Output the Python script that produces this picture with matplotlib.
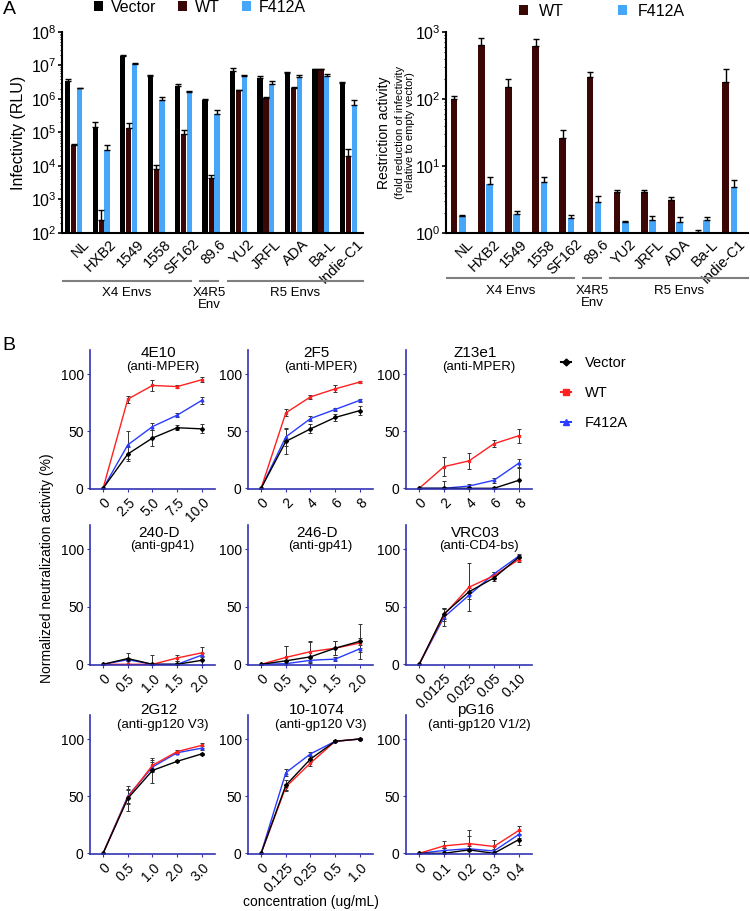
import numpy as np
import matplotlib.pyplot as plt
import matplotlib.transforms as mtransforms
from matplotlib.lines import Line2D
from matplotlib.ticker import LogLocator, NullFormatter

plt.rcParams['font.family'] = ['Liberation Sans', 'DejaVu Sans']
plt.rcParams['mathtext.fontset'] = 'custom'
plt.rcParams['mathtext.rm'] = 'Liberation Sans'
plt.rcParams['mathtext.default'] = 'regular'

# ---- panel A data ----
envs = ['NL', 'HXB2', '1549', '1558', 'SF162', '89.6', 'YU2', 'JRFL', 'ADA', 'Ba-L', 'Indie-C1']
groups = ['X4 Envs', 'X4R5\nEnv', 'R5 Envs']
group_first = [0, 5, 6]
group_last = [4, 5, 10]

rlu_vector = [3.5e6, 1.5e5, 1.96e7, 5.0e6, 2.5e6, 9.5e5, 7.0e6, 4.3e6, 6.0e6, 7.7e6, 3.1e6]
rlu_vector_err = [0.5e6, 0.5e5, 1.0e6, 0.3e6, 0.4e6, 0.5e5, 1.2e6, 0.6e6, 0.6e6, 0.4e6, 0.2e6]
rlu_wt = [4.2e4, 250, 1.4e5, 8.1e3, 9.1e4, 4.4e3, 1.8e6, 1.07e6, 2.1e6, 7.7e6, 2.0e4]
rlu_wt_err = [0.4e4, 250, 0.5e5, 2.5e3, 3e4, 1.1e3, 0.1e6, 0.1e6, 0.2e6, 0.3e6, 1.2e4]
rlu_f412a = [2.1e6, 3.1e4, 1.1e7, 9.5e5, 1.6e6, 3.6e5, 5.0e6, 2.9e6, 4.5e6, 5.0e6, 6.8e5]
rlu_f412a_err = [0.1e6, 1.1e4, 1.0e6, 2.0e5, 1.5e5, 1.2e5, 0.2e6, 0.6e6, 0.8e6, 0.6e6, 2.7e5]

fold_wt = [101, 647, 150, 613, 26, 213, 4.1, 4.1, 3.15, 1.05, 178]
fold_wt_err = [8, 180, 50, 160, 9, 37, 0.3, 0.3, 0.3, 0.05, 100]
fold_f412a = [1.77, 5.4, 1.92, 5.7, 1.67, 2.87, 1.44, 1.55, 1.48, 1.55, 4.86]
fold_f412a_err = [0.1, 1.5, 0.23, 1.2, 0.21, 0.73, 0.09, 0.22, 0.25, 0.18, 1.24]

# ---- panel B data ----
t_4e10 = ['0', '2.5', '5.0', '7.5', '10.0']
vec_4e10 = [0, 30, 44, 53, 52];     vec_4e10_err = [0, 6, 7, 2, 4]
wt_4e10 = [0, 78, 90, 89, 95];      wt_4e10_err = [0, 3, 5, 1, 2]
f_4e10 = [0, 38, 54, 64, 77];       f_4e10_err = [0, 12, 3, 2, 3]

t_2f5 = ['0', '2', '4', '6', '8']
vec_2f5 = [0, 41, 52, 62, 68];      vec_2f5_err = [0, 11, 4, 3, 4]
wt_2f5 = [0, 66, 80, 87, 93];       wt_2f5_err = [0, 3, 1.5, 3, 1]
f_2f5 = [0, 45, 61, 69, 77];        f_2f5_err = [0, 8, 2, 1, 1.5]

t_z13 = ['0', '2', '4', '6', '8']
vec_z13 = [0, 0, 0, 0, 7];          vec_z13_err = [0, 6, 1, 1, 12]
wt_z13 = [0, 19, 24, 39, 46];       wt_z13_err = [0, 8, 7, 3, 6]
f_z13 = [0, 0, 2, 7, 22];           f_z13_err = [0, 1, 2, 2, 4]

t_240d = ['0', '0.5', '1.0', '1.5', '2.0']
vec_240d = [0, 5, 0, 0, 3.5];       vec_240d_err = [0, 5, 8, 3, 4]
wt_240d = [0, 0, 0, 5.5, 10];       wt_240d_err = [0, 0, 0, 3, 5]
f_240d = [0, 4, 0, 0, 8];           f_240d_err = [0, 1, 1, 1, 2]

t_246d = ['0', '0.5', '1.0', '1.5', '2.0']
vec_246d = [0, 3, 6.5, 14, 20];     vec_246d_err = [0, 13, 13, 6, 15]
wt_246d = [0, 6, 11, 14, 18.5];     wt_246d_err = [0, 10, 9, 6, 4]
f_246d = [0, 0.5, 3.5, 4.5, 13.5];  f_246d_err = [0, 2, 2, 2, 3]

t_vrc = ['0', '0.0125', '0.025', '0.05', '0.10']
vec_vrc = [0, 44, 63, 75, 93];      vec_vrc_err = [0, 5, 3, 3, 2]
wt_vrc = [0, 43, 67, 77, 91];       wt_vrc_err = [0, 5, 21, 3, 2]
f_vrc = [0, 41, 60, 78.5, 94];      f_vrc_err = [0, 8, 3, 2, 2]

t_2g12 = ['0', '0.5', '1.0', '2.0', '3.0']
vec_2g12 = [0, 48, 72.5, 80.5, 87]; vec_2g12_err = [0, 11, 11, 1, 1]
wt_2g12 = [0, 49, 77, 89, 94.5];    wt_2g12_err = [0, 6, 5, 1, 2]
f_2g12 = [0, 50, 75.5, 88, 92];     f_2g12_err = [0, 6, 4, 1, 2]

t_1074 = ['0', '0.125', '0.25', '0.5', '1.0']
vec_1074 = [0, 59.5, 82.5, 98, 100]; vec_1074_err = [0, 5, 3, 1, 1]
wt_1074 = [0, 58, 79, 98, 100];      wt_1074_err = [0, 3, 3, 1, 1]
f_1074 = [0, 70.5, 87, 98, 100];     f_1074_err = [0, 3, 2, 1, 1]

t_pg16 = ['0', '0.1', '0.2', '0.3', '0.4']
vec_pg16 = [0, 0, 3, 0, 12];        vec_pg16_err = [0, 5, 12, 6, 5]
wt_pg16 = [0, 6.5, 8.5, 6, 20];     wt_pg16_err = [0, 4, 12, 6, 4]
f_pg16 = [0, 2.5, 4, 2, 16.5];      f_pg16_err = [0, 2, 2, 2, 3]

W, H = 750, 911
fig = plt.figure(figsize=(W / 100, H / 100), dpi=100)


def px_axes(l, t, r, b):
    return fig.add_axes([l / W, 1 - b / H, (r - l) / W, (b - t) / H])


C_VEC = 'black'
C_WT = '#3a0606'
C_F = '#45a6fa'
ekw = dict(ecolor='black', elinewidth=1, capsize=2, capthick=1)


def group_lines(ax, xlim, yline, ytext):
    tr = ax.get_xaxis_transform()
    for name, a, b in zip(groups, group_first, group_last):
        lo = max(a - 0.4, xlim[0])
        hi = b + 0.25 if b < len(envs) - 1 else xlim[1]
        ax.plot([lo, hi], [yline, yline], color='#7f7f7f', lw=1.5,
                transform=tr, clip_on=False)
        ax.text((lo + hi) / 2, ytext, name, transform=tr, ha='center',
                va='top', fontsize=9.5, linespacing=1.0)


def style_a(ax, lo, hi):
    ax.set_yscale('log')
    ax.set_ylim(lo, hi)
    ax.set_yticks([10.0 ** k for k in range(int(np.log10(lo)), int(np.log10(hi)) + 1)])
    ax.yaxis.set_minor_locator(LogLocator(base=10, subs=np.arange(2, 10), numticks=20))
    ax.yaxis.set_minor_formatter(NullFormatter())
    for s in ['top', 'right']:
        ax.spines[s].set_visible(False)
    for s in ['left', 'bottom']:
        ax.spines[s].set_linewidth(1.5)
    ax.tick_params(axis='x', length=0, labelsize=10.5, pad=3)
    ax.tick_params(axis='y', which='major', length=3, width=1.2, labelsize=11.5, pad=1)
    ax.tick_params(axis='y', which='minor', length=1.5, width=0.7)
    off = mtransforms.ScaledTranslation(0.08, 0, fig.dpi_scale_trans)
    for lab in ax.get_xticklabels():
        lab.set_transform(lab.get_transform() + off)


x = np.arange(len(envs))
n = len(envs)

# ---- A left ----
ax = px_axes(62, 32, 363, 233)
ax.set_yscale('log')
b1 = ax.bar(x - 0.22, rlu_vector, 0.19, color=C_VEC, yerr=[np.zeros(n), rlu_vector_err], error_kw=ekw)
b2 = ax.bar(x, rlu_wt, 0.19, color=C_WT, yerr=[np.zeros(n), rlu_wt_err], error_kw=ekw)
b3 = ax.bar(x + 0.21, rlu_f412a, 0.19, color=C_F, yerr=[np.zeros(n), rlu_f412a_err], error_kw=ekw)
ax.set_xlim(-0.43, 10.53)
ax.set_xticks(x, envs, rotation=45, ha='right', rotation_mode='anchor')
ax.set_ylabel('Infectivity (RLU)', fontsize=11.5, labelpad=3)
style_a(ax, 1e2, 1e8)
group_lines(ax, (-0.43, 10.53), -0.239, -0.27)
fig.legend([b1, b2, b3], ['Vector', 'WT', 'F412A'], loc='center',
           bbox_to_anchor=(200 / W, 1 - 7 / H), ncol=3, frameon=False,
           fontsize=11.5, handlelength=0.55, handleheight=0.55, columnspacing=1.4,
           handletextpad=0.5)

# ---- A right ----
ax = px_axes(446, 32, 748, 233)
ax.set_yscale('log')
r1 = ax.bar(x - 0.153, fold_wt, 0.245, color=C_WT, yerr=[np.zeros(n), fold_wt_err], error_kw=ekw)
r2 = ax.bar(x + 0.153, fold_f412a, 0.245, color=C_F, yerr=[np.zeros(n), fold_f412a_err], error_kw=ekw)
ax.set_xlim(-0.45, 10.67)
ax.set_xticks(x, envs, rotation=45, ha='right', rotation_mode='anchor')
style_a(ax, 1, 1e3)
group_lines(ax, (-0.45, 10.67), -0.224, -0.258)
ax.text(-0.205, 0.5, 'Restriction activity', transform=ax.transAxes, rotation=90,
        ha='center', va='center', fontsize=10)
ax.text(-0.137, 0.5, '(fold reduction of infectivity\nrelative to empty vector)',
        transform=ax.transAxes, rotation=90, ha='center', va='center',
        fontsize=8, linespacing=1.0)
fig.legend([r1, r2], ['WT', 'F412A'], loc='center',
           bbox_to_anchor=(602 / W, 1 - 11 / H), ncol=2, frameon=False,
           fontsize=11.5, handlelength=0.55, handleheight=0.55, columnspacing=3.4,
           handletextpad=0.7)

fig.text(3 / W, 1 - 9 / H, 'A', fontsize=14, va='center', ha='left')
fig.text(2 / W, 1 - 345 / H, 'B', fontsize=14, va='center', ha='left')

# ---- panel B ----
panels = [
    ('4E10', '(anti-MPER)', t_4e10, vec_4e10, vec_4e10_err, wt_4e10, wt_4e10_err, f_4e10, f_4e10_err),
    ('2F5', '(anti-MPER)', t_2f5, vec_2f5, vec_2f5_err, wt_2f5, wt_2f5_err, f_2f5, f_2f5_err),
    ('Z13e1', '(anti-MPER)', t_z13, vec_z13, vec_z13_err, wt_z13, wt_z13_err, f_z13, f_z13_err),
    ('240-D', '(anti-gp41)', t_240d, vec_240d, vec_240d_err, wt_240d, wt_240d_err, f_240d, f_240d_err),
    ('246-D', '(anti-gp41)', t_246d, vec_246d, vec_246d_err, wt_246d, wt_246d_err, f_246d, f_246d_err),
    ('VRC03', '(anti-CD4-bs)', t_vrc, vec_vrc, vec_vrc_err, wt_vrc, wt_vrc_err, f_vrc, f_vrc_err),
    ('2G12', '(anti-gp120 V3)', t_2g12, vec_2g12, vec_2g12_err, wt_2g12, wt_2g12_err, f_2g12, f_2g12_err),
    ('10-1074', '(anti-gp120 V3)', t_1074, vec_1074, vec_1074_err, wt_1074, wt_1074_err, f_1074, f_1074_err),
    ('pG16', '(anti-gp120 V1/2)', t_pg16, vec_pg16, vec_pg16_err, wt_pg16, wt_pg16_err, f_pg16, f_pg16_err),
]
rows = [(350, 489), (525, 665), (715, 854)]
cols = [(90, 215), (248, 373), (406, 532)]
title_y = [(0.978, 0.878), (0.943, 0.85), (1.036, 0.928)]
C_AX = '#3434b4'
C_RED = '#ff2020'
C_BLUE = '#2a3cff'

for i, (name, target, ticks, vec, vec_e, wt, wt_e, f, f_e) in enumerate(panels):
    r, c = divmod(i, 3)
    ax = px_axes(cols[c][0], rows[r][0], cols[c][1], rows[r][1])
    xs = np.arange(len(ticks))
    for vals, err, col, mk in [(f, f_e, C_BLUE, '^'), (wt, wt_e, C_RED, 's'), (vec, vec_e, C_VEC, 'D')]:
        ax.errorbar(xs, vals, yerr=err, color=col, marker=mk, ms=2, lw=1.0,
                    ecolor='#333333', elinewidth=0.7, capsize=1.5, capthick=0.7)
    ax.set_xlim(-0.53, 4.53)
    ax.set_ylim(-0.6, 121)
    ax.set_yticks([0, 50, 100])
    ax.set_xticks(xs, ticks, rotation=45, ha='right', rotation_mode='anchor')
    for s in ['top', 'right']:
        ax.spines[s].set_visible(False)
    for s in ['left', 'bottom']:
        ax.spines[s].set_color(C_AX)
        ax.spines[s].set_linewidth(1.2)
    ax.tick_params(colors=C_AX, labelcolor='black', length=2.5, labelsize=10, pad=2)
    ax.text(0.55, title_y[r][0], name, transform=ax.transAxes, ha='center',
            va='center', fontsize=11)
    ax.text(0.58, title_y[r][1], target, transform=ax.transAxes, ha='center',
            va='center', fontsize=9.5)

handles = [Line2D([0], [0], color=C_VEC, marker='D', ms=3.5, lw=1.5),
           Line2D([0], [0], color=C_RED, marker='s', ms=4, lw=1.5),
           Line2D([0], [0], color=C_BLUE, marker='^', ms=4, lw=1.5)]
fig.legend(handles, ['Vector', 'WT', 'F412A'], loc='upper left',
           bbox_to_anchor=(548 / W, 1 - 343 / H), frameon=False, fontsize=10.5,
           handlelength=0.7, labelspacing=1.1, handletextpad=0.9)

fig.text(47 / W, 1 - 568 / H, 'Normalized neutralization activity (%)',
         rotation=90, ha='center', va='center', fontsize=10)
fig.text(311 / W, 1 - 902 / H, 'concentration (ug/mL)', ha='center',
         va='center', fontsize=10)

fig.savefig('out.png', dpi=100)
